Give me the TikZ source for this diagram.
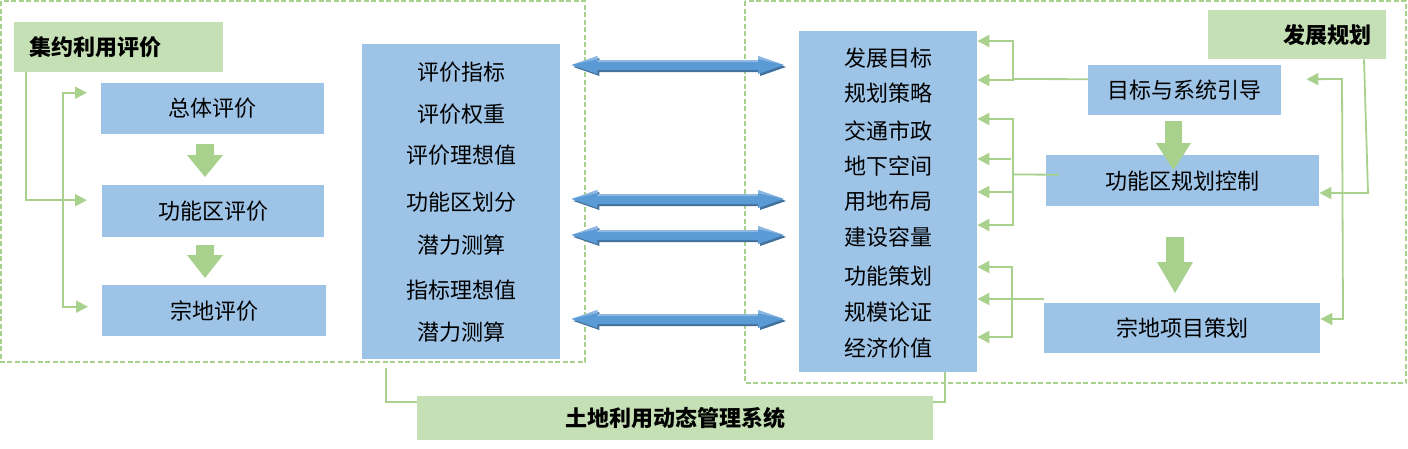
\documentclass[tikz,border=0pt]{standalone}
\usepackage{fontspec}
\newfontfamily\cjk{Noto Sans CJK SC}
\usetikzlibrary{calc,arrows.meta}
\definecolor{boxblue}{HTML}{9DC3E6}
\definecolor{boxgreen}{HTML}{C5E0B4}
\definecolor{lgreen}{HTML}{A9D18E}
\definecolor{arrblue}{HTML}{5B9BD5}
\definecolor{arrdark}{HTML}{41719C}
\definecolor{arrlight}{HTML}{8FB8E3}
\tikzset{
  bluebox/.style={fill=boxblue,inner sep=0pt,anchor=north west,font=\cjk\fontsize{22}{26}\selectfont},
  greenbox/.style={fill=boxgreen,inner sep=0pt,anchor=north west,font=\cjk\bfseries\fontsize{22}{26}\selectfont},
  txt/.style={inner sep=0pt,font=\cjk\fontsize{22}{26}\selectfont},
  gl/.style={draw=lgreen,line width=1.8pt},
  tipone/.style={-{Triangle[length=12pt,width=12pt]}},
  tipboth/.style={{Triangle[length=12pt,width=12pt]}-{Triangle[length=12pt,width=12pt]}},
  dashborder/.style={draw=lgreen,line width=1.5pt,dash pattern=on 5pt off 2.5pt},
}
\newcommand\fatdown[5]{%
  \fill[lgreen] ($(#1)+(-#4,0)$) -- ($(#1)+(#4,0)$) -- ($(#1)+(#4,#3)$) -- ($(#1)+(#5,#3)$) -- ($(#1)+(0,#2)$) -- ($(#1)+(-#5,#3)$) -- ($(#1)+(-#4,#3)$) -- cycle;}
\newcommand\dblarrow[1]{%
  \coordinate (A) at ($(mid.east |- 0,#1)+(11,0)$);
  \coordinate (B) at ($(rb.west |- 0,#1)+(-15,0)$);
  \fill[arrdark] ($(A)+(2,2)$) -- ($(A)+(28,-7)$) -- ($(A)+(28,-3)$) -- ($(B)+(-24,-3)$) -- ($(B)+(-24,-7)$) -- ($(B)+(2,2)$) -- ($(B)+(-24,11)$) -- ($(B)+(-24,7)$) -- ($(A)+(28,7)$) -- ($(A)+(28,11)$) -- cycle;
  \fill[arrblue] (A) -- ($(A)+(26,-9)$) -- ($(A)+(26,-5)$) -- ($(B)+(-26,-5)$) -- ($(B)+(-26,-9)$) -- (B) -- ($(B)+(-26,9)$) -- ($(B)+(-26,5)$) -- ($(A)+(26,5)$) -- ($(A)+(26,9)$) -- cycle;
  \fill[arrlight] ($(A)+(4,-1)$) -- ($(A)+(26,-9)$) -- ($(A)+(26,-5)$) -- ($(B)+(-26,-5)$) -- ($(B)+(-26,-9)$) -- ($(B)+(-4,-1)$) -- ($(B)+(-26,-6)$) -- ($(B)+(-26,-3)$) -- ($(A)+(26,-3)$) -- ($(A)+(26,-6)$) -- cycle;}
\begin{document}
\begin{tikzpicture}[x=1pt,y=-1pt]
\useasboundingbox (0,0) rectangle (1408,448);
% dashed frames
\draw[dashborder] (1,1) rectangle (585,362);
\draw[dashborder] (745,1) rectangle (1406,383);
% left group
\node[greenbox,minimum width=209,minimum height=50] (jy) at (14,22) {};
\node[anchor=west,inner sep=0pt,font=\cjk\bfseries\fontsize{22}{26}\selectfont] (jyt) at (29,47) {集约利用评价};
\node[bluebox,minimum width=223,minimum height=51] (zt) at (101,83) {总体评价};
\node[bluebox,minimum width=222,minimum height=52] (gn) at (102,185) {功能区评价};
\node[bluebox,minimum width=224,minimum height=51] (zd) at (102,285) {宗地评价};
\fatdown{205,144}{33}{11}{9}{18}
\fatdown{205,245}{33}{10}{9}{18}
\draw[gl,tipone] ($(jy.south west)+(12,0)$) |- ($(gn.west)+(-15,-11)$);
\draw[gl,tipboth] ($(zt.west)+(-14,-16)$) -| ($(zd.west)+(-39,-4)$) -- ($(zd.west)+(-14,-4)$);
% middle left box
\node[bluebox,minimum width=198,minimum height=315] (mid) at (362,44) {};
\node[txt] (m1) at (461,72) {评价指标};
\node[txt] (m2) at (461,114) {评价权重};
\node[txt] (m3) at (461,155) {评价理想值};
\node[txt] (m4) at (461,202) {功能区划分};
\node[txt] (m5) at (461,245) {潜力测算};
\node[txt] (m6) at (461,290) {指标理想值};
\node[txt] (m7) at (461,332) {潜力测算};
% right middle box
\node[bluebox,minimum width=178,minimum height=341] (rb) at (799,31) {};
\node[txt] (r1) at (888,58) {发展目标};
\node[txt] (r2) at (888,93) {规划策略};
\node[txt] (r3) at (888,131) {交通市政};
\node[txt] (r4) at (888,166) {地下空间};
\node[txt] (r5) at (888,201) {用地布局};
\node[txt] (r6) at (888,237) {建设容量};
\node[txt] (r7) at (888,276) {功能策划};
\node[txt] (r8) at (888,312) {规模论证};
\node[txt] (r9) at (888,348) {经济价值};
% double arrows
\dblarrow{65}
\dblarrow{199}
\dblarrow{235}
\dblarrow{319}
% right group
\node[greenbox,minimum width=178,minimum height=49] (fz) at (1208,10) {};
\node[anchor=east,inner sep=0pt,font=\cjk\bfseries\fontsize{22}{26}\selectfont] (fzt) at (1372,35) {发展规划};
\node[bluebox,minimum width=193,minimum height=50] (mt) at (1088,65) {目标与系统引导};
\node[bluebox,minimum width=273,minimum height=51] (gk) at (1046,155) {功能区规划控制};
\node[bluebox,minimum width=276,minimum height=50] (zx) at (1044,303) {宗地项目策划};
\fatdown{1173.5,121}{49}{22}{8.5}{17.5}
\fatdown{1175,237}{56}{25}{9}{18}
% right connectors to rb
\draw[gl,tipboth] (rb.east |- 0,41) -| (1013,80) -- (rb.east |- 0,80);
\draw[gl] ($(mt.west)+(0,-11)$) -- (1013,79);
\draw[gl,tipboth] (rb.east |- 0,119) -| (1013,225) -- (rb.east |- 0,225);
\draw[gl,tipone] (1011,159) -- (rb.east |- 0,159);
\draw[gl,tipone] (1013,192) -- (rb.east |- 0,192);
\draw[gl] ($(gk.west)+(13,-6)$) -- (1013,174.5);
\draw[gl,tipboth] (rb.east |- 0,267) -| (1012,337) -- (rb.east |- 0,337);
\draw[gl,tipone] (zx.west |- 0,299) -- (rb.east |- 0,299);
% right side connectors
\draw[gl,tipone] ($(fz.south west)+(156,0)$) -- (1368,193) -- (gk.east |- 0,193);
\draw[gl,tipboth] ($(mt.east)+(25,-11)$) -- (1342,79) -- (1343,319) -- (zx.east |- 0,319);
% bottom system box
\node[greenbox,minimum width=516,minimum height=44] (gs) at (417,396) {土地利用动态管理系统};
\draw[gl] ($(mid.south west)+(24,9)$) |- ($(gs.north west)+(0,6)$);
\draw[gl] ($(rb.south west)+(146,0)$) |- ($(gs.north east)+(0,6)$);
\end{tikzpicture}
\end{document}
